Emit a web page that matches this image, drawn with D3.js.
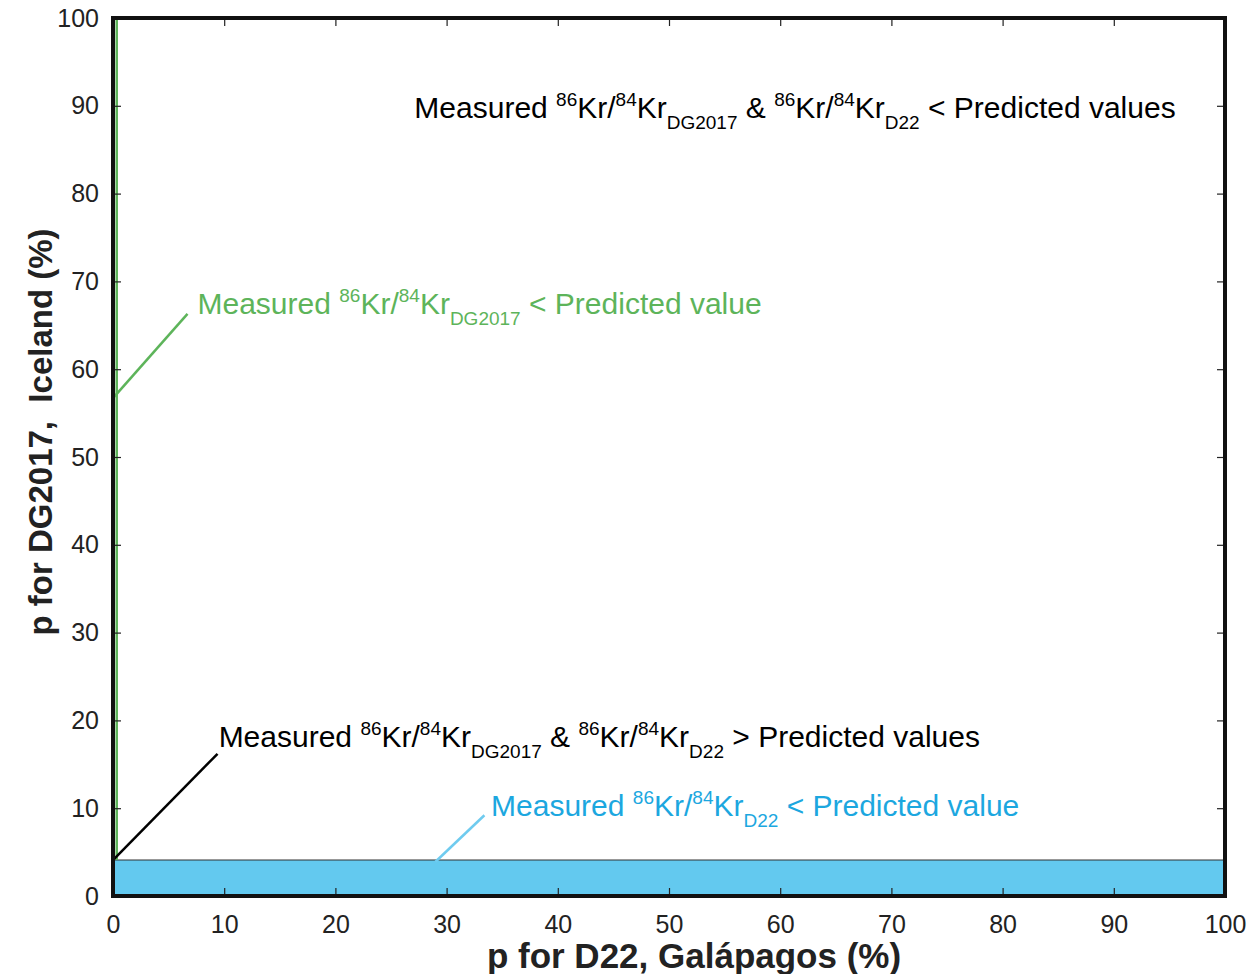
<!DOCTYPE html>
<html>
<head>
<meta charset="utf-8">
<script src="https://cdn.jsdelivr.net/npm/d3@7"></script>
<style>
  body { margin: 0; background: #fff; }
  svg { font-family: "Liberation Sans", Arial, Helvetica, sans-serif; }
</style>
</head>
<body>
<div id="chart"></div>
<script>
// ---- data ----------------------------------------------------------
const X_TICKS = [0, 10, 20, 30, 40, 50, 60, 70, 80, 90, 100]
const Y_TICKS = [0, 10, 20, 30, 40, 50, 60, 70, 80, 90, 100]

const X_TITLE = 'p for D22, Galápagos (%)'
const Y_TITLE = 'p for DG2017,  Iceland (%)'

// region where measured D22 < predicted (x range, y range)
const BAND_X = [0, 100]
const BAND_Y = [0, 4.1]

// region where measured DG2017 < predicted (thin vertical strip)
const GREEN_X = [0.2, 0.2]
const GREEN_Y = [4.1, 100]

// leader lines [x0, y0, x1, y1]
const LEADER_GREEN = [0, 56.7, 6.7, 66.3]
const LEADER_BLACK = [0, 4.1, 9.4, 16.2]
const LEADER_CYAN = [29, 3.9, 33.4, 9.2]

// annotation texts and anchors
const NOTE_TEXTS = [
  'Measured ^{86}Kr/^{84}Kr_{DG2017} & ^{86}Kr/^{84}Kr_{D22} < Predicted values',
  'Measured ^{86}Kr/^{84}Kr_{DG2017} < Predicted value',
  'Measured ^{86}Kr/^{84}Kr_{DG2017} & ^{86}Kr/^{84}Kr_{D22} > Predicted values',
  'Measured ^{86}Kr/^{84}Kr_{D22} < Predicted value'
]
const NOTE_X = [27.1, 7.6, 9.5, 34.0]
const NOTE_Y = [88.6, 66.3, 17.0, 9.1]

// ---- layout --------------------------------------------------------
const WIDTH = 1255
const HEIGHT = 974
const LEFT = 113
const RIGHT = 1225
const TOP = 18
const BOTTOM = 896

const GREEN = '#5db45a'
const CYAN_TEXT = '#1ca7df'
const CYAN_FILL = '#63c9ef'
const CYAN_LINE = '#6fcbef'
const NOTE_COLORS = ['#000', GREEN, '#000', CYAN_TEXT]

const x = d3.scaleLinear().domain([0, 100]).range([LEFT, RIGHT])
const y = d3.scaleLinear().domain([0, 100]).range([BOTTOM, TOP])

const svg = d3.select('#chart')
  .append('svg')
    .attr('width', WIDTH)
    .attr('height', HEIGHT)

svg.append('rect')
  .attr('width', '100%')
  .attr('height', '100%')
  .attr('fill', 'white')

// band
svg.append('rect')
  .attr('x', x(BAND_X[0]))
  .attr('y', y(BAND_Y[1]))
  .attr('width', x(BAND_X[1]) - x(BAND_X[0]))
  .attr('height', y(BAND_Y[0]) - y(BAND_Y[1]))
  .attr('fill', CYAN_FILL)
  .attr('stroke', '#333')
  .attr('stroke-width', 1)

// green strip
svg.append('line')
  .attr('x1', x(GREEN_X[0]) + 1.5).attr('x2', x(GREEN_X[1]) + 1.5)
  .attr('y1', y(GREEN_Y[0])).attr('y2', y(GREEN_Y[1]))
  .attr('stroke', GREEN)
  .attr('stroke-width', 2.5)

// leaders
const leaders = [
  [LEADER_GREEN, GREEN],
  [LEADER_BLACK, '#000'],
  [LEADER_CYAN, CYAN_LINE]
]
leaders.forEach(([l, c]) => {
  svg.append('line')
    .attr('x1', x(l[0])).attr('y1', y(l[1]))
    .attr('x2', x(l[2])).attr('y2', y(l[3]))
    .attr('stroke', c)
    .attr('stroke-width', 2.5)
})

// axes
const axisStyle = g => {
  g.selectAll('.domain').remove()
  g.selectAll('.tick line').attr('stroke', '#222').attr('stroke-width', 1.2)
  g.selectAll('.tick text')
    .attr('fill', '#222')
    .style('font-size', '25px')
}

svg.append('g')
  .attr('transform', `translate(0, ${BOTTOM})`)
  .call(d3.axisBottom(x).tickValues(X_TICKS).tickSize(-8).tickPadding(19))
  .call(axisStyle)

svg.append('g')
  .attr('transform', `translate(${LEFT}, 0)`)
  .call(d3.axisLeft(y).tickValues(Y_TICKS).tickSize(-8).tickPadding(14))
  .call(axisStyle)

svg.append('g')
  .attr('transform', `translate(0, ${TOP})`)
  .call(d3.axisTop(x).tickValues(X_TICKS).tickSize(-8).tickFormat(''))
  .call(axisStyle)

svg.append('g')
  .attr('transform', `translate(${RIGHT}, 0)`)
  .call(d3.axisRight(y).tickValues(Y_TICKS).tickSize(-8).tickFormat(''))
  .call(axisStyle)

// frame
svg.append('rect')
  .attr('x', LEFT).attr('y', TOP)
  .attr('width', RIGHT - LEFT).attr('height', BOTTOM - TOP)
  .attr('fill', 'none')
  .attr('stroke', '#111')
  .attr('stroke-width', 4)

// axis titles
svg.append('text')
  .attr('x', 694)
  .attr('y', 968)
  .attr('text-anchor', 'middle')
  .style('font-size', '35px')
  .style('font-weight', 'bold')
  .attr('fill', '#222')
  .text(X_TITLE)

svg.append('text')
  .attr('transform', `translate(52, 432) rotate(-90)`)
  .attr('text-anchor', 'middle')
  .style('font-size', '33px')
  .style('font-weight', 'bold')
  .attr('fill', '#222')
  .style('white-space', 'pre')
  .text(Y_TITLE)

// rich text notes with ^{sup} and _{sub}
const addNote = (str, px, py, color) => {
  const t = svg.append('text')
    .attr('x', px)
    .attr('y', py)
    .attr('fill', color)
    .style('font-size', '30px')
    .style('white-space', 'pre')
  str.split(/(\^\{[^}]*\}|_\{[^}]*\})/).filter(s => s.length).forEach(s => {
    if (s[0] === '^') {
      t.append('tspan').attr('y', py - 12).style('font-size', '19px').text(s.slice(2, -1))
    } else if (s[0] === '_') {
      t.append('tspan').attr('y', py + 11).style('font-size', '19px').text(s.slice(2, -1))
    } else {
      t.append('tspan').attr('y', py).text(s)
    }
  })
}

NOTE_TEXTS.forEach((s, i) => addNote(s, x(NOTE_X[i]), y(NOTE_Y[i]), NOTE_COLORS[i]))
</script>
</body>
</html>
